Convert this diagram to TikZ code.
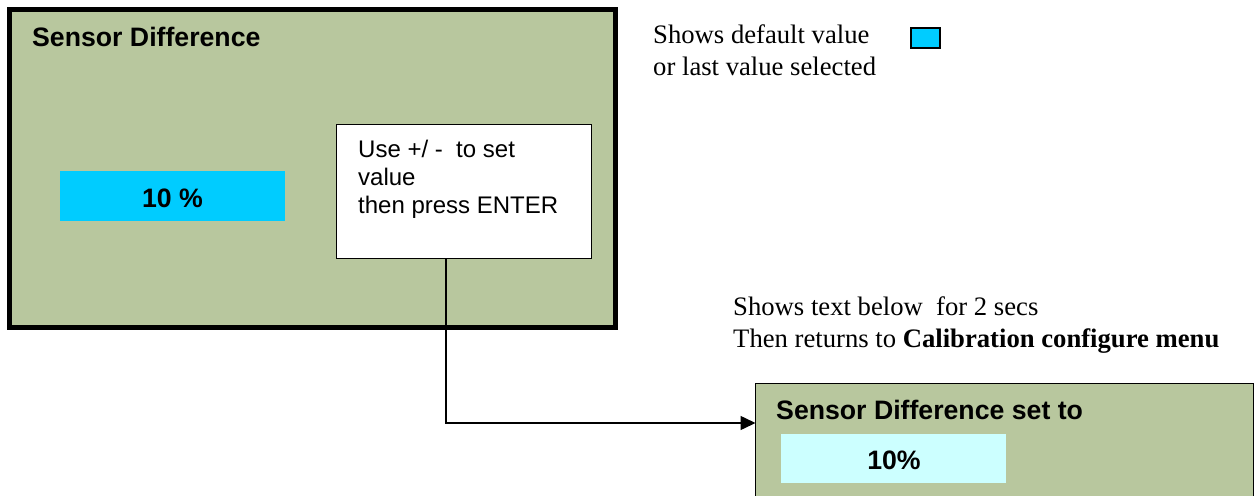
\documentclass[tikz,border=0pt]{standalone}
\usepackage{fontspec}
\setmainfont{Liberation Serif}
\newfontfamily\arialf{Liberation Sans}
\usetikzlibrary{arrows.meta}
\definecolor{panelgreen}{HTML}{B8C79E}
\definecolor{valcyan}{HTML}{00CCFF}
\definecolor{palecyan}{HTML}{CCFFFF}
\tikzset{
  panel/.style={draw=black, fill=panelgreen, inner sep=0pt, outer sep=0pt, anchor=north west},
  notebox/.style={draw=black, fill=white, line width=1.2pt, inner sep=0pt, outer sep=0pt, anchor=north west},
  valbox/.style={fill=valcyan, inner sep=0pt, outer sep=0pt, anchor=north west},
  palebox/.style={fill=palecyan, inner sep=0pt, outer sep=0pt, anchor=north west},
  sanstitle/.style={inner sep=0pt, anchor=base west, font=\arialf\bfseries\fontsize{26.67}{30}\selectfont},
  sansval/.style={inner sep=0pt, anchor=base, font=\arialf\bfseries\fontsize{26.67}{30}\selectfont},
  sansnote/.style={inner sep=0pt, anchor=base west, font=\arialf\fontsize{24}{28}\selectfont},
  serifnote/.style={inner sep=0pt, anchor=base west, font=\fontsize{26.67}{30}\selectfont},
  flowline/.style={draw=black, line width=1.5pt, -{Triangle[length=15pt,width=14pt]}}
}
\begin{document}
\begin{tikzpicture}[x=1pt,y=-1pt]
\useasboundingbox (0,0) rectangle (1257,495);
\clip (0,0) rectangle (1257,495);
% main panel
\node[panel, line width=5pt, minimum width=606pt, minimum height=318pt] (main) at (9.5,9.5) {};
\node[sanstitle] (maintitle) at (32,47) {Sensor Difference};
\node[valbox, minimum width=225pt, minimum height=50pt] (valbox) at (60,171) {};
\node[sansval] (valtext) at (172.5,207) {10 \%};
% instruction box
\node[notebox, minimum width=255pt, minimum height=134pt] (wbox) at (336.5,124.5) {};
\node[sansnote] (w1) at (358,157) {Use +/ -\ \ to set};
\node[sansnote] (w2) at (358,185) {value};
\node[sansnote] (w3) at (358,213) {then press ENTER};
% legend
\node[serifnote] (leg1) at (653,44) {Shows default value};
\node[serifnote] (leg2) at (653,75) {or last value selected};
\node[draw=black, line width=2pt, fill=valcyan, inner sep=0pt, anchor=north west, minimum width=29pt, minimum height=20pt] (legbox) at (909.5,27.5) {};
% result description
\node[serifnote] (r1) at (733,315) {Shows text below\ \ for 2 secs};
\node[serifnote] (r2) at (733,347) {Then returns to \textbf{Calibration configure menu}};
% result panel
\node[panel, line width=1.5pt, minimum width=498pt, minimum height=130pt] (result) at (755.5,383.5) {};
\node[sanstitle] (restitle) at (776,419) {Sensor Difference set to};
\node[palebox, minimum width=225pt, minimum height=49pt] (resval) at (781,434) {};
\node[sansval] (resvaltext) at (894,469) {10\%};
% connector
\coordinate (turn) at (446,423);
\draw[flowline] (wbox.south -| turn) -- (turn) -- (result.west |- turn);
\end{tikzpicture}
\end{document}
